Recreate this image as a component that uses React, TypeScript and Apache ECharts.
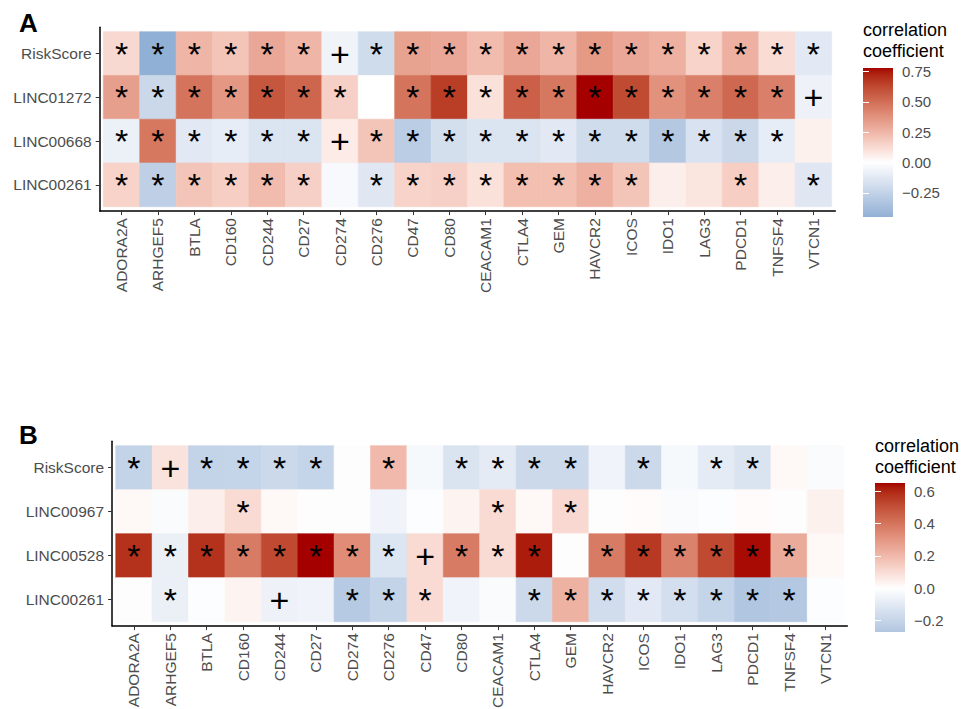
import React, { useEffect, useRef } from "react";
import * as echarts from "echarts";

// ---------------- data ----------------
const genes = ["ADORA2A", "ARHGEF5", "BTLA", "CD160", "CD244", "CD27", "CD274", "CD276", "CD47", "CD80", "CEACAM1", "CTLA4", "GEM", "HAVCR2", "ICOS", "IDO1", "LAG3", "PDCD1", "TNFSF4", "VTCN1"];

const rowsA = ["RiskScore", "LINC01272", "LINC00668", "LINC00261"];
const rowsB = ["RiskScore", "LINC00967", "LINC00528", "LINC00261"];

// Panel A correlation coefficients (one array per row)
const aRiskScore = [0.13, -0.45, 0.25, 0.2, 0.3, 0.25, -0.06, -0.2, 0.32, 0.3, 0.23, 0.3, 0.25, 0.35, 0.3, 0.27, 0.15, 0.27, 0.12, -0.12];
const aLINC01272 = [0.33, -0.22, 0.48, 0.36, 0.58, 0.53, 0.16, 0.0, 0.48, 0.66, 0.1, 0.55, 0.47, 0.78, 0.62, 0.38, 0.44, 0.52, 0.44, -0.07];
const aLINC00668 = [-0.08, 0.47, -0.12, -0.1, -0.15, -0.15, 0.07, 0.2, -0.28, -0.18, -0.15, -0.15, -0.12, -0.2, -0.2, -0.31, -0.16, -0.22, -0.1, 0.05];
const aLINC00261 = [0.15, -0.27, 0.2, 0.17, 0.23, 0.16, -0.03, -0.13, 0.15, 0.16, 0.1, 0.22, 0.22, 0.27, 0.2, 0.06, 0.09, 0.17, 0.06, -0.13];

// Panel A significance marks
const sRiskScoreA = ["*", "*", "*", "*", "*", "*", "+", "*", "*", "*", "*", "*", "*", "*", "*", "*", "*", "*", "*", "*"];
const sLINC01272A = ["*", "*", "*", "*", "*", "*", "*", "", "*", "*", "*", "*", "*", "*", "*", "*", "*", "*", "*", "+"];
const sLINC00668A = ["*", "*", "*", "*", "*", "*", "+", "*", "*", "*", "*", "*", "*", "*", "*", "*", "*", "*", "*", ""];
const sLINC00261A = ["*", "*", "*", "*", "*", "*", "", "*", "*", "*", "*", "*", "*", "*", "*", "", "", "*", "", "*"];

// Panel B correlation coefficients
const bRiskScore = [-0.21, 0.08, -0.21, -0.2, -0.18, -0.2, 0.0, 0.2, -0.03, -0.13, -0.09, -0.18, -0.18, -0.05, -0.18, -0.03, -0.09, -0.13, 0.02, -0.02];
const bLINC00967 = [0.02, -0.02, 0.05, 0.1, 0.02, 0.0, 0.0, -0.05, -0.01, 0.03, 0.1, 0.02, 0.11, 0.0, 0.01, -0.02, -0.01, 0.01, 0.0, 0.04];
const bLINC00528 = [0.58, -0.07, 0.58, 0.38, 0.52, 0.65, 0.33, -0.12, 0.1, 0.38, 0.1, 0.62, 0.0, 0.38, 0.56, 0.36, 0.52, 0.64, 0.24, 0.02];
const bLINC00261 = [0.0, -0.07, -0.01, 0.03, -0.06, -0.05, -0.25, -0.21, 0.1, -0.05, -0.02, -0.18, 0.22, -0.16, -0.1, -0.15, -0.2, -0.27, -0.26, -0.01];

// Panel B significance marks
const sRiskScoreB = ["*", "+", "*", "*", "*", "*", "", "*", "", "*", "*", "*", "*", "", "*", "", "*", "*", "", ""];
const sLINC00967B = ["", "", "", "*", "", "", "", "", "", "", "*", "", "*", "", "", "", "", "", "", ""];
const sLINC00528B = ["*", "*", "*", "*", "*", "*", "*", "*", "+", "*", "*", "*", "", "*", "*", "*", "*", "*", "*", ""];
const sLINC00261B = ["", "*", "", "", "+", "", "*", "*", "*", "", "", "*", "*", "*", "*", "*", "*", "*", "*", ""];

const legendTicksA = [-0.25, 0, 0.25, 0.5, 0.75];
const legendTicksB = [-0.2, 0, 0.2, 0.4, 0.6];

// ---------------- colour scale (ggplot-like gradient2, Lab interpolation) ----------------
const LOW = "#2C7BB6";
const MID = "#FFFFFF";
const HIGH = "#A50000";

function hex2rgb(h: string) {
  const n = parseInt(h.slice(1), 16);
  return [(n >> 16) & 255, (n >> 8) & 255, n & 255];
}
function toLin(c: number) {
  c /= 255;
  return c <= 0.04045 ? c / 12.92 : Math.pow((c + 0.055) / 1.055, 2.4);
}
function fromLin(c: number) {
  c = Math.max(0, Math.min(1, c));
  const v = c <= 0.0031308 ? 12.92 * c : 1.055 * Math.pow(c, 1 / 2.4) - 0.055;
  return Math.max(0, Math.min(255, Math.round(v * 255)));
}
function rgb2lab(rgb: number[]) {
  const [r, g, b] = rgb.map(toLin);
  const X = (0.4124 * r + 0.3576 * g + 0.1805 * b) / 0.95047;
  const Y = 0.2126 * r + 0.7152 * g + 0.0722 * b;
  const Z = (0.0193 * r + 0.1192 * g + 0.9505 * b) / 1.08883;
  const f = (t: number) => (t > 0.008856 ? Math.cbrt(t) : 7.787 * t + 16 / 116);
  const fx = f(X), fy = f(Y), fz = f(Z);
  return [116 * fy - 16, 500 * (fx - fy), 200 * (fy - fz)];
}
function lab2rgb(lab: number[]) {
  const [L, a, b] = lab;
  const fy = (L + 16) / 116, fx = fy + a / 500, fz = fy - b / 200;
  const inv = (t: number) => (t * t * t > 0.008856 ? t * t * t : (t - 16 / 116) / 7.787);
  const X = inv(fx) * 0.95047, Y = inv(fy), Z = inv(fz) * 1.08883;
  const r = 3.2406 * X - 1.5372 * Y - 0.4986 * Z;
  const g = -0.9689 * X + 1.8758 * Y + 0.0415 * Z;
  const bb = 0.0557 * X - 0.204 * Y + 1.057 * Z;
  return [fromLin(r), fromLin(g), fromLin(bb)];
}
const labLow = rgb2lab(hex2rgb(LOW));
const labMid = rgb2lab(hex2rgb(MID));
const labHigh = rgb2lab(hex2rgb(HIGH));
function colorAt(v: number, maxAbs: number) {
  const t = Math.max(-1, Math.min(1, v / maxAbs));
  const target = t < 0 ? labLow : labHigh;
  const k = Math.abs(t);
  const lab = labMid.map((m, i) => m + (target[i] - m) * k);
  const [r, g, b] = lab2rgb(lab);
  return `rgb(${r},${g},${b})`;
}

function buildPanel(rowsVals: number[][], rowsSig: string[][]) {
  const data: number[][] = [];
  const sig: string[] = [];
  rowsVals.forEach((vals, yi) => {
    vals.forEach((v, xi) => {
      data.push([xi, yi, v]);
      sig.push(rowsSig[yi][xi]);
    });
  });
  const all = rowsVals.flat();
  const min = Math.min(...all);
  const max = Math.max(...all);
  const maxAbs = Math.max(Math.abs(min), Math.abs(max));
  const N = 60;
  const stops: string[] = [];
  const grad: { offset: number; color: string }[] = [];
  for (let i = 0; i <= N; i++) {
    const v = min + ((max - min) * i) / N;
    stops.push(colorAt(v, maxAbs));
    const vt = max - ((max - min) * i) / N;
    grad.push({ offset: i / N, color: colorAt(vt, maxAbs) });
  }
  return { data, sig, min, max, stops, grad };
}

const FONT = "Liberation Sans";
const AXIS_FS = 15.5;

export default function App() {
  const ref = useRef<HTMLDivElement>(null);
  useEffect(() => {
    document.body.style.margin = "0";
    if (!ref.current) return;
    const chart = echarts.init(ref.current, undefined, { renderer: "svg" });

    const A = buildPanel([aRiskScore, aLINC01272, aLINC00668, aLINC00261], [sRiskScoreA, sLINC01272A, sLINC00668A, sLINC00261A]);
    const B = buildPanel([bRiskScore, bLINC00967, bLINC00528, bLINC00261], [sRiskScoreB, sLINC00967B, sLINC00528B, sLINC00261B]);

    const xIdx = genes.map((_, i) => i);
    const yIdx = rowsA.map((_, i) => i);

    const mainX = (gridIndex: number) => ({
      gridIndex,
      type: "value",
      min: -0.6,
      max: genes.length - 0.4,
      splitLine: { show: false },
      axisLine: { onZero: false, lineStyle: { color: "#000", width: 1.5 } },
      axisTick: { customValues: xIdx, length: 4, lineStyle: { color: "#333", width: 1 } },
      axisLabel: {
        customValues: xIdx,
        rotate: 90,
        margin: 7,
        formatter: (v: number) => genes[Math.round(v)],
        fontSize: AXIS_FS,
        color: "#4D4D4D",
        fontFamily: FONT,
      },
    });
    const mainY = (gridIndex: number, rows: string[]) => ({
      gridIndex,
      type: "value",
      min: -0.6,
      max: rows.length - 0.4,
      inverse: true,
      splitLine: { show: false },
      axisLine: { onZero: false, lineStyle: { color: "#000", width: 1.5 } },
      axisTick: { customValues: yIdx, length: 4, lineStyle: { color: "#333", width: 1 } },
      axisLabel: {
        customValues: yIdx,
        margin: 8,
        formatter: (v: number) => rows[Math.round(v)],
        fontSize: AXIS_FS,
        color: "#4D4D4D",
        fontFamily: FONT,
      },
    });
    const legY = (gridIndex: number, P: any, ticks: number[], digits: number, right: boolean) => ({
      gridIndex,
      type: "value",
      position: right ? "right" : "left",
      min: P.min,
      max: P.max,
      splitLine: { show: false },
      axisLine: { show: false },
      axisTick: { show: true, inside: true, customValues: ticks, length: 6, lineStyle: { color: "#fff", width: 1 } },
      axisLabel: {
        show: right,
        customValues: ticks,
        margin: 9,
        formatter: (v: number) => (v < 0 ? "\u2212" + Math.abs(v).toFixed(digits) : v.toFixed(digits)),
        fontSize: 15,
        color: "#4D4D4D",
        fontFamily: FONT,
      },
    });

    const renderCell = (sig: string[]) => (params: any, api: any) => {
      const x = api.value(0);
      const y = api.value(1);
      const p1 = api.coord([x - 0.5, y - 0.5]);
      const p2 = api.coord([x + 0.5, y + 0.5]);
      const c = api.coord([x, y]);
      const fill = api.visual("color");
      return {
        type: "group",
        children: [
          {
            type: "rect",
            shape: {
              x: Math.min(p1[0], p2[0]),
              y: Math.min(p1[1], p2[1]),
              width: Math.abs(p2[0] - p1[0]),
              height: Math.abs(p2[1] - p1[1]),
            },
            style: { fill, stroke: fill, lineWidth: 0.6 },
          },
          {
            type: "text",
            x: c[0],
            y: c[1],
            style: {
              text: sig[params.dataIndex],
              fontSize: 34,
              fontFamily: FONT,
              fill: "#000",
              align: "center",
              verticalAlign: "middle",
            },
          },
        ],
      };
    };

    const titleStyle = { fontSize: 26, fontWeight: "bold", color: "#000", fontFamily: FONT };
    const legTitleStyle = { fontSize: 18, lineHeight: 21, fontWeight: "normal", color: "#000", fontFamily: FONT };

    chart.setOption({
      animation: false,
      backgroundColor: "#fff",
      title: [
        { text: "A", left: 19, top: 10, padding: 0, textStyle: titleStyle },
        { text: "B", left: 19, top: 422, padding: 0, textStyle: titleStyle },
        { text: "correlation\ncoefficient", left: 863, top: 19, padding: 0, textStyle: legTitleStyle },
        { text: "correlation\ncoefficient", left: 875, top: 435, padding: 0, textStyle: legTitleStyle },
      ],
      grid: [
        { left: 99.7, top: 27.3, width: 735.6, height: 183.8, outerBoundsMode: "none" },
        { left: 112.1, top: 441.3, width: 735.2, height: 184.8, outerBoundsMode: "none" },
        {
          left: 863, top: 68, width: 30, height: 149, show: true, borderWidth: 0, outerBoundsMode: "none",
          backgroundColor: new echarts.graphic.LinearGradient(0, 0, 0, 1, A.grad),
        },
        {
          left: 875, top: 483, width: 30, height: 149, show: true, borderWidth: 0, outerBoundsMode: "none",
          backgroundColor: new echarts.graphic.LinearGradient(0, 0, 0, 1, B.grad),
        },
      ],
      xAxis: [
        mainX(0),
        mainX(1),
        { gridIndex: 2, type: "value", show: false, min: 0, max: 1 },
        { gridIndex: 3, type: "value", show: false, min: 0, max: 1 },
      ],
      yAxis: [
        mainY(0, rowsA),
        mainY(1, rowsB),
        legY(2, A, legendTicksA, 2, true),
        legY(2, A, legendTicksA, 2, false),
        legY(3, B, legendTicksB, 1, true),
        legY(3, B, legendTicksB, 1, false),
      ],
      visualMap: [
        { type: "continuous", show: false, seriesIndex: 0, dimension: 2, min: A.min, max: A.max, inRange: { color: A.stops } },
        { type: "continuous", show: false, seriesIndex: 1, dimension: 2, min: B.min, max: B.max, inRange: { color: B.stops } },
      ],
      series: [
        {
          type: "custom",
          xAxisIndex: 0,
          yAxisIndex: 0,
          data: A.data,
          encode: { x: 0, y: 1 },
          renderItem: renderCell(A.sig),
        },
        {
          type: "custom",
          xAxisIndex: 1,
          yAxisIndex: 1,
          data: B.data,
          encode: { x: 0, y: 1 },
          renderItem: renderCell(B.sig),
        },
      ],
    });
    return () => chart.dispose();
  }, []);
  return <div ref={ref} style={{ width: 964, height: 709 }} />;
}
